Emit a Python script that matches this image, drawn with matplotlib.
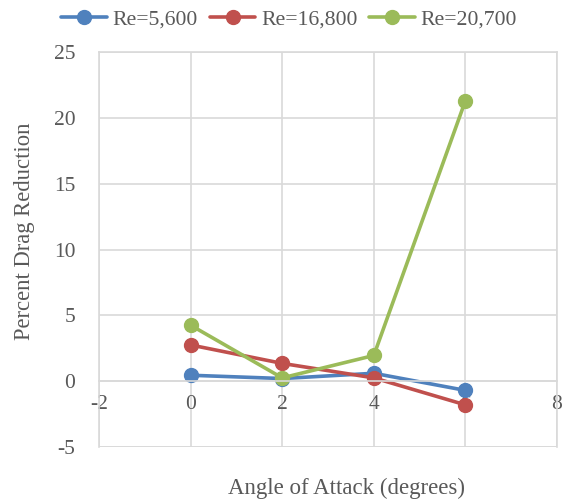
import matplotlib.pyplot as plt

plt.rcParams['font.family'] = ['Liberation Serif', 'DejaVu Serif']
plt.rcParams['axes.unicode_minus'] = False

angle = [0, 2, 4, 6]
re_5600 = [0.45, 0.2, 0.6, -0.7]
re_16800 = [2.75, 1.35, 0.25, -1.8]
re_20700 = [4.25, 0.25, 1.95, 21.3]
labels = ['Re=5,600', 'Re=16,800', 'Re=20,700']
colors = ['#4F81BD', '#C0504D', '#9BBB59']

grey = '#595959'
grid = '#D9D9D9'

fig = plt.figure(figsize=(5.76, 5.01), dpi=100)
ax = fig.add_axes([99 / 576, 1 - 447 / 501, (557 - 99) / 576, (447 - 52) / 501])

for ys, lab, c in zip([re_5600, re_16800, re_20700], labels, colors):
    ax.plot(angle, ys, color=c, lw=2.6, marker='o', markersize=10, label=lab,
            solid_capstyle='round')

ax.set_xlim(-2, 8)
ax.set_ylim(-5, 25)
ax.set_xticks([-2, 0, 2, 4, 6, 8])
ax.set_yticks([-5, 0, 5, 10, 15, 20, 25])
ax.grid(True, color=grid, lw=1.2)
ax.set_axisbelow(True)

for s in ['top', 'right', 'left']:
    ax.spines[s].set_color(grid)
    ax.spines[s].set_linewidth(1.2)
ax.spines['bottom'].set_position(('data', 0))
ax.spines['bottom'].set_color(grid)
ax.spines['bottom'].set_linewidth(1.2)

ax.tick_params(axis='both', length=0, colors=grey, labelsize=15.5)
ax.tick_params(axis='x', pad=10)
ax.tick_params(axis='y', pad=17)

# frame line at bottom of plot area
ax.axhline(-5, color=grid, lw=1.2, zorder=0)

fig.text(25 / 576, 1 - 231 / 501, 'Percent Drag Reduction', color=grey,
         fontsize=16.3, ha='center', va='center', rotation=90)
fig.text(346 / 576, 1 - 488 / 501, 'Angle of Attack (degrees)', color=grey,
         fontsize=16.5, ha='center', va='center')

fig.legend(loc='center', bbox_to_anchor=(289 / 576, 1 - 19 / 501), ncol=3,
           frameon=False, fontsize=15.7, labelcolor=grey, handlelength=2.1,
           handletextpad=0.25, columnspacing=0.55, borderpad=0)

fig.savefig('out.png', dpi=100)
